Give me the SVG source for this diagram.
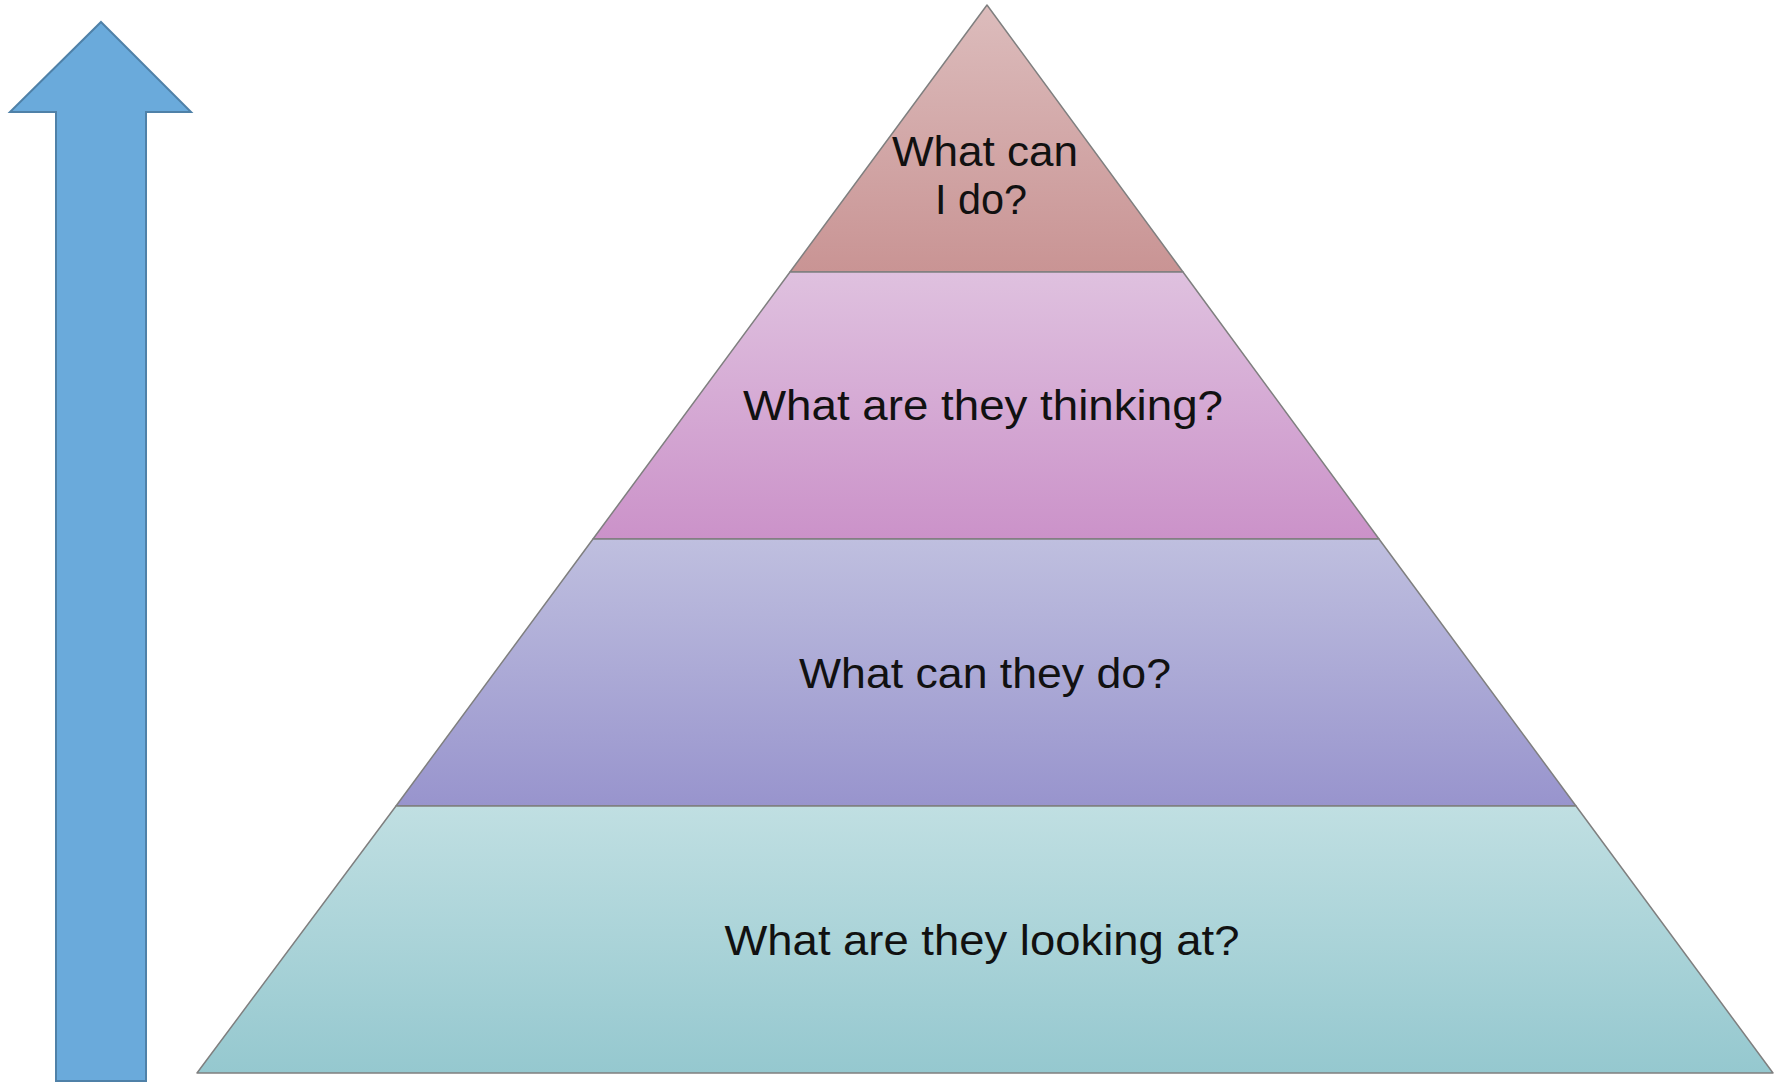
<svg xmlns="http://www.w3.org/2000/svg" width="1785" height="1082" viewBox="0 0 1785 1082">
  <defs>
    <linearGradient id="g1" x1="0" y1="0" x2="0" y2="1">
      <stop offset="0" stop-color="#dcbcbc"/>
      <stop offset="1" stop-color="#c99494"/>
    </linearGradient>
    <linearGradient id="g2" x1="0" y1="0" x2="0" y2="1">
      <stop offset="0" stop-color="#dfc1df"/>
      <stop offset="1" stop-color="#cb92c9"/>
    </linearGradient>
    <linearGradient id="g3" x1="0" y1="0" x2="0" y2="1">
      <stop offset="0" stop-color="#bfbfdf"/>
      <stop offset="1" stop-color="#9894cd"/>
    </linearGradient>
    <linearGradient id="g4" x1="0" y1="0" x2="0" y2="1">
      <stop offset="0" stop-color="#c0dfe2"/>
      <stop offset="1" stop-color="#95c8cf"/>
    </linearGradient>
  </defs>
  <style>
    .band { stroke: #7f7f7f; stroke-width: 1.5; stroke-linejoin: round; }
    .lbl { font-family: "Liberation Sans", Arial, sans-serif; font-size: 43px; fill: #111111; text-anchor: middle; }
  </style>
  <rect width="1785" height="1082" fill="#ffffff"/>
  <g id="arrow">
    <polygon points="101,22 191,112 146,112 146,1081 56,1081 56,112 10,112" fill="#6aaadb" stroke="#4f81a8" stroke-width="2"/>
  </g>
  <g id="layer1">
    <polygon class="band" points="987,5 1183,272 790,272" fill="url(#g1)"/>
    <text class="lbl" x="985" y="166" textLength="186" lengthAdjust="spacingAndGlyphs">What can</text>
    <text class="lbl" x="981" y="214" textLength="92" lengthAdjust="spacingAndGlyphs">I do?</text>
  </g>
  <g id="layer2">
    <polygon class="band" points="790,272 1183,272 1379,539 593,539" fill="url(#g2)"/>
    <text class="lbl" x="983" y="420" textLength="480" lengthAdjust="spacingAndGlyphs">What are they thinking?</text>
  </g>
  <g id="layer3">
    <polygon class="band" points="593,539 1379,539 1576,806 396,806" fill="url(#g3)"/>
    <text class="lbl" x="985" y="688" textLength="372" lengthAdjust="spacingAndGlyphs">What can they do?</text>
  </g>
  <g id="layer4">
    <polygon class="band" points="396,806 1576,806 1773,1073 197,1073" fill="url(#g4)"/>
    <text class="lbl" x="982" y="955" textLength="515" lengthAdjust="spacingAndGlyphs">What are they looking at?</text>
  </g>
  <g id="connectors"/>
</svg>
